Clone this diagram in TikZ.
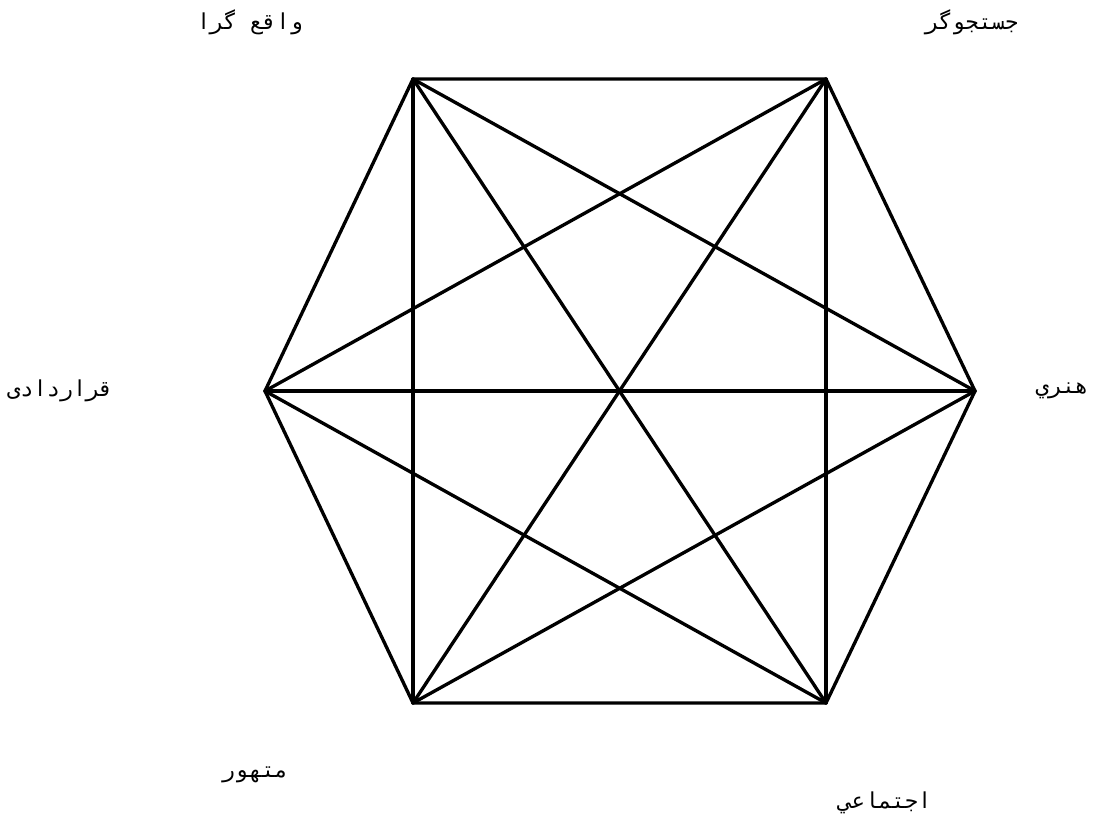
\documentclass[tikz,border=0pt]{standalone}
\usepackage{fontspec}
\newfontfamily\arabicfont[Script=Arabic]{DejaVu Sans Mono}
\TeXXeTstate=1
\usepackage{tikz}
\usetikzlibrary{positioning}

\begin{document}
\begin{tikzpicture}[
    x=0.02cm, y=-0.02cm,
    edge/.style={line width=1.9pt, color=black, line cap=round, line join=round},
    lbl/.style={font=\arabicfont\fontsize{12.5}{14}\selectfont, inner sep=0pt}
]
\useasboundingbox (0,0) rectangle (1106,819);

\coordinate (realist) at (413,79);
\coordinate (invest) at (826,79);
\coordinate (artist) at (975,391);
\coordinate (social) at (826,703);
\coordinate (enterp) at (413,703);
\coordinate (conven) at (265,391);

\node[lbl] (l_realist) at (250,22) {\beginR واقع گرا\endR};
\node[lbl] (l_invest) at (972,22) {\beginR جستجوگر\endR};
\node[lbl] (l_conven) at (60,391) {\beginR قراردادی\endR};
\node[lbl] (l_artist) at (1062,391) {\beginR هنري\endR};
\node[lbl] (l_enterp) at (255,775) {\beginR متهور\endR};
\node[lbl] (l_social) at (885,803) {\beginR اجتماعي\endR};

% hexagon
\draw[edge] (realist) -- (invest) -- (artist) -- (social) -- (enterp) -- (conven) -- cycle;
% square sides
\draw[edge] (realist) -- (enterp);
\draw[edge] (invest) -- (social);
\draw[edge] (conven) -- (artist);
% through the centre
\draw[edge] (realist) -- (social);
\draw[edge] (invest) -- (enterp);
% triangles
\draw[edge] (realist) -- (artist);
\draw[edge] (invest) -- (conven);
\draw[edge] (enterp) -- (artist);
\draw[edge] (social) -- (conven);

\end{tikzpicture}
\end{document}
